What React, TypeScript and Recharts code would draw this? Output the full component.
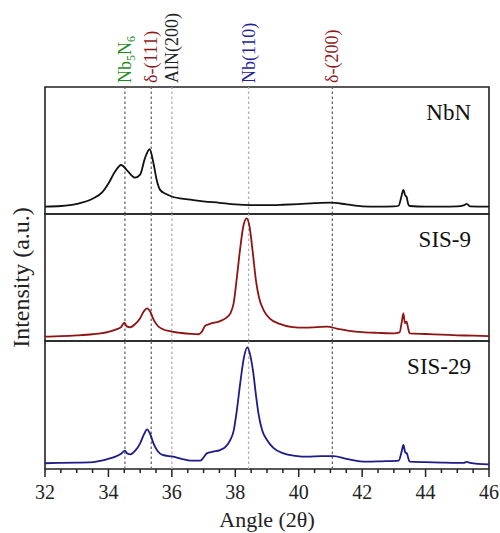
import React from 'react';
import { LineChart, Line, XAxis, YAxis, ReferenceLine, ReferenceArea } from 'recharts';

// XRD patterns (intensity scaled 0..100 per panel)
const nbnAngle = [32.0, 32.5, 33.0, 33.5, 33.8, 34.0, 34.2, 34.4, 34.6, 34.84, 35.0, 35.15, 35.3, 35.42, 35.52, 35.63, 35.8, 36.0, 36.5, 37.0, 37.5, 38.0, 38.5, 39.0, 39.5, 40.0, 40.5, 41.0, 41.5, 42.0, 42.5, 43.0, 43.15, 43.24, 43.3, 43.36, 43.4, 43.45, 43.5, 44.0, 44.5, 45.0, 45.2, 45.3, 45.4, 46.0];
const nbnIntensity = [5.8, 6.3, 8, 12, 17, 24, 33, 38.6, 34, 28.6, 31, 43.8, 51, 40, 27, 19, 16, 13.8, 11.5, 10, 8.8, 7.5, 7, 7, 7.3, 7.8, 8.5, 8.9, 7.6, 6, 5.8, 6, 6.5, 14, 19, 14.5, 13.6, 8, 6.3, 5.8, 5.8, 6, 6.8, 7.9, 6, 5.8];

const sis9Angle = [32.0, 32.5, 33.0, 33.5, 33.8, 34.0, 34.25, 34.4, 34.5, 34.58, 34.68, 34.85, 35.0, 35.12, 35.22, 35.32, 35.42, 35.55, 35.7, 36.0, 36.3, 36.6, 36.85, 36.95, 37.05, 37.2, 37.5, 37.7, 37.85, 37.95, 38.05, 38.15, 38.25, 38.36, 38.45, 38.55, 38.65, 38.75, 38.9, 39.1, 39.4, 39.8, 40.2, 40.6, 40.9, 41.2, 41.6, 42.0, 42.5, 43.0, 43.18, 43.25, 43.3, 43.35, 43.4, 43.45, 43.5, 44.0, 44.5, 45.0, 45.5, 46.0];
const sis9Intensity = [3.4, 3.8, 4.4, 5.3, 6.2, 7.2, 9.2, 11, 14.4, 11.5, 10.8, 13.5, 18, 23.5, 25.7, 23, 17, 12, 9.5, 7.4, 6.3, 5.6, 5.3, 7.5, 12, 13.5, 15.5, 18, 22, 30, 50, 72, 90, 96.6, 90, 70, 48, 34, 24, 17.5, 13.5, 11, 10.5, 11, 11.3, 9.8, 8, 7, 6.4, 6, 6.8, 15, 21.8, 14, 15.2, 10, 6, 5.5, 5, 4.5, 4.2, 3.9];

const sis29Angle = [32.0, 32.5, 33.0, 33.4, 33.7, 33.95, 34.2, 34.4, 34.52, 34.6, 34.7, 34.85, 35.0, 35.12, 35.22, 35.32, 35.42, 35.55, 35.7, 36.05, 36.3, 36.6, 36.9, 37.0, 37.1, 37.3, 37.52, 37.7, 37.84, 37.95, 38.05, 38.15, 38.28, 38.38, 38.48, 38.57, 38.65, 38.73, 38.85, 39.0, 39.2, 39.52, 39.9, 40.26, 40.7, 41.1, 41.5, 42.15, 42.6, 43.15, 43.25, 43.3, 43.36, 43.41, 43.46, 43.5, 44.0, 44.5, 45.0, 45.2, 45.3, 45.4, 46.0];
const sis29Intensity = [4.5, 4.8, 5, 5.2, 6.2, 7.6, 9.5, 12, 14.3, 12, 11.5, 14.5, 20, 27, 31, 27, 20, 14, 11, 9.6, 8, 6.5, 6.5, 9, 12.2, 13.5, 14.8, 17.5, 22.6, 30, 46, 66, 88, 95, 88, 74.7, 58, 43.5, 30, 22.6, 16.5, 12.2, 10.3, 9.6, 10, 10.1, 8, 5.7, 6, 6.5, 14, 18.75, 13, 12.2, 8, 5.7, 5.3, 5, 4.8, 4.8, 5.5, 4.8, 3.6];

// phase markers
const refAngles = [34.52, 35.35, 36.0, 38.42, 41.06];
const refNames = ['Nb5N6', 'δ-(111)', 'AlN(200)', 'Nb(110)', 'δ-(200)'];

const majorTicks = [32, 34, 36, 38, 40, 42, 44, 46];
const allTicks = [32, 32.5, 33, 33.5, 34, 34.5, 35, 35.5, 36, 36.5, 37, 37.5, 38, 38.5, 39, 39.5, 40, 40.5, 41, 41.5, 42, 42.5, 43, 43.5, 44, 44.5, 45, 45.5, 46];

const FONT = 'Liberation Serif, Times New Roman, serif';
const serif = { fontFamily: FONT };
const refLineColors = ['#666', '#666', '#b0b0b0', '#b0b0b0', '#666'];
const refTextColors = ['#1e8c1e', '#8e1c1c', '#222', '#23239a', '#8e1c1c'];

const zip = (xs: number[], ys: number[]) => xs.map((a, i) => ({ angle: a, y: ys[i] }));

function PhaseLabel({ viewBox, index }: any) {
  const x = viewBox.x + 6;
  const y = viewBox.y - 4;
  const name = refNames[index];
  return (
    <text x={x} y={y} transform={`rotate(-90, ${x}, ${y})`} style={serif} fontSize={18} fill={refTextColors[index]}>
      {name === 'Nb5N6' ? (
        <>
          Nb<tspan fontSize={12} dy={4}>5</tspan>
          <tspan dy={-4}>N</tspan>
          <tspan fontSize={12} dy={4}>6</tspan>
        </>
      ) : name}
    </text>
  );
}

function AngleTick({ x, y, payload }: any) {
  const major = majorTicks.includes(payload.value);
  return (
    <g>
      <line x1={x} x2={x} y1={y} y2={y + (major ? 8 : 4)} stroke="#222" strokeWidth={1.5} />
      {major && (
        <text x={x} y={y + 30} textAnchor="middle" style={serif} fontSize={20} fill="#222">
          {payload.value}
        </text>
      )}
    </g>
  );
}

interface PanelProps {
  data: { angle: number; y: number }[];
  color: string;
  name: string;
  top: number;
  height: number;
  margin: { top: number; right: number; bottom: number; left: number };
  showLabels?: boolean;
  showAxis?: boolean;
  yLabel?: boolean;
}

function Panel({ data, color, name, top, height, margin, showLabels, showAxis, yLabel }: PanelProps) {
  return (
    <div style={{ position: 'absolute', left: 0, top }}>
      <LineChart width={500} height={height} data={data} margin={margin}>
        <XAxis
          dataKey="angle"
          type="number"
          domain={[32, 46]}
          ticks={allTicks}
          interval={0}
          hide={!showAxis}
          height={64}
          axisLine={false}
          tickLine={false}
          tickSize={0}
          tickMargin={0}
          tick={<AngleTick />}
          label={{
            content: ({ viewBox }: any) => (
              <text x={viewBox.x + viewBox.width / 2} y={viewBox.y + 58} textAnchor="middle" style={serif} fontSize={22} fill="#222">
                Angle (2θ)
              </text>
            ),
          }}
        />
        <YAxis
          type="number"
          domain={[0, 100]}
          width={45}
          hide={!yLabel}
          tick={false}
          axisLine={false}
          tickLine={false}
          label={{
            content: ({ viewBox }: any) => {
              const cy = viewBox.y + viewBox.height / 2;
              return (
                <text x={29} y={cy} transform={`rotate(-90, 29, ${cy})`} textAnchor="middle" style={serif} fontSize={24} fill="#222">
                  Intensity (a.u.)
                </text>
              );
            },
          }}
        />
        {refAngles.map((a, i) => (
          <ReferenceLine
            key={a}
            x={a}
            stroke={refLineColors[i]}
            strokeWidth={1.3}
            strokeDasharray="2.5 2.5"
            label={showLabels ? <PhaseLabel index={i} /> : undefined}
          />
        ))}
        <Line type="monotone" dataKey="y" stroke={color} strokeWidth={1.8} dot={false} isAnimationActive={false} />
        <ReferenceArea
          x1={32}
          x2={46}
          y1={0}
          y2={100}
          fill="none"
          stroke="#222"
          strokeWidth={1.6}
          label={{
            content: ({ viewBox }: any) => (
              <text x={viewBox.x + viewBox.width - 18} y={viewBox.y + 33} textAnchor="end" style={serif} fontSize={23} fill="#111">
                {name}
              </text>
            ),
          }}
        />
      </LineChart>
    </div>
  );
}

export default function App() {
  return (
    <div style={{ position: 'absolute', left: 0, top: 0, width: 500, height: 533, background: '#fff' }}>
      <style>{'.recharts-surface { overflow: visible; }'}</style>
      <Panel data={zip(nbnAngle, nbnIntensity)} color="#111" name="NbN" top={0} height={216}
        margin={{ top: 87, right: 11, bottom: 2, left: 45 }} showLabels />
      <Panel data={zip(sis9Angle, sis9Intensity)} color="#8e1414" name="SIS-9" top={212} height={131}
        margin={{ top: 2, right: 11, bottom: 2, left: 0 }} yLabel />
      <Panel data={zip(sis29Angle, sis29Intensity)} color="#1c1c8a" name="SIS-29" top={339} height={194}
        margin={{ top: 2, right: 11, bottom: 0, left: 45 }} showAxis />
    </div>
  );
}
